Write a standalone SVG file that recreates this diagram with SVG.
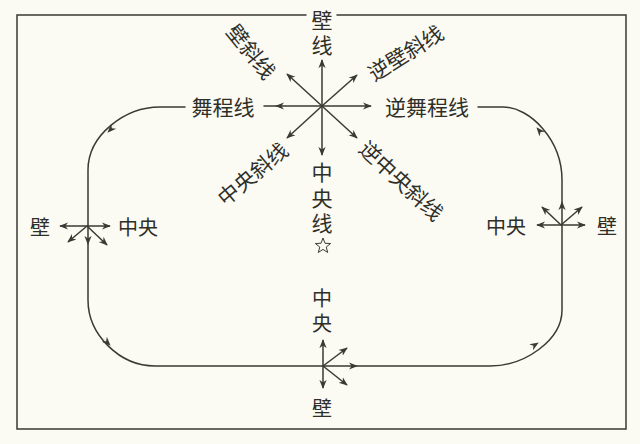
<svg xmlns="http://www.w3.org/2000/svg" width="640" height="444" viewBox="0 0 640 444">
<style>
.bg{fill:#fbfbf4}
.ln{fill:none;stroke:#3a3a32;stroke-width:1.5;stroke-linecap:round}
.ar{fill:none;stroke:#3a3a32;stroke-width:1.5;marker-end:url(#ah)}
.tk{fill:none;stroke:#3a3a32;stroke-width:0.1;marker-end:url(#ah)}
.t{font-family:"Noto Sans CJK SC","Noto Sans",sans-serif;font-size:21px;fill:#2f2f28;text-anchor:middle;dominant-baseline:central}
.s{font-size:20px}
.v{writing-mode:vertical-rl;letter-spacing:4.5px}
</style>
<defs>
<marker id="ah" viewBox="0 0 10 10" refX="9" refY="5" markerWidth="9" markerHeight="9" markerUnits="userSpaceOnUse" orient="auto">
<path d="M0,1 L10,5 L0,9 L3,5 Z" fill="#3a3a32"/>
</marker>
</defs>
<rect class="bg" x="0" y="0" width="640" height="444"/>
<g id="border">
<path class="ln" d="M306,15 H17 V429 H626 V15 H337"/>
</g>
<g id="connectors">
<path class="ln" d="M185,107 H160 C125,107 88,135 88,170 V300 C88,335 120,366 155,366 H490 C525,366 562,340 562,310 V180 C562,140 530,107 503,107 H478"/>
<path class="tk" d="M115,125 L108,132"/>
<path class="tk" d="M103,338 L110,345"/>
<path class="tk" d="M530,348 L538,343"/>
<path class="tk" d="M543,135 L537,128"/>
</g>
<g id="center-star">
<path class="ar" d="M322,106 L322,60"/>
<path class="ar" d="M322,106 L322,155"/>
<path class="ar" d="M322,106 L287,74"/>
<path class="ar" d="M322,106 L357,75"/>
<path class="ar" d="M322,106 L287,138"/>
<path class="ar" d="M322,106 L357,138"/>
<path class="ar" d="M322,106 L276,106"/>
<path class="ln" d="M276,106 L264,106"/>
<path class="ar" d="M322,106 L371,106"/>
</g>
<g id="label-wall-line">
<text class="t v" x="322" y="35">壁线</text>
</g>
<g id="label-lod">
<text class="t" x="223" y="106">舞程线</text>
</g>
<g id="label-against-lod">
<text class="t" x="427" y="106">逆舞程线</text>
</g>
<g id="label-diag-wall">
<text class="t" transform="translate(252,51) rotate(51)">壁斜线</text>
</g>
<g id="label-against-diag-wall">
<text class="t" transform="translate(405,52) rotate(-32)">逆壁斜线</text>
</g>
<g id="label-diag-center">
<text class="t" transform="translate(252,173) rotate(-40)">中央斜线</text>
</g>
<g id="label-against-diag-center">
<text class="t" transform="translate(402,180) rotate(43)">逆中央斜线</text>
</g>
<g id="label-center-line">
<text class="t v" x="322" y="200">中央线</text>
<polygon points="323,238 325,243.25 330.61,243.53 326.23,247.05 327.7,252.47 323,249.4 318.3,252.47 319.77,247.05 315.39,243.53 321,243.25" fill="none" stroke="#3a3a32" stroke-width="1"/>
</g>
<g id="left-cross">
<path class="ar" d="M87,226 L60,226"/>
<path class="ar" d="M87,226 L110,226"/>
<path class="ar" d="M87,226 L68,242"/>
<path class="ar" d="M87,226 L107,245"/>
<path class="tk" d="M88,234 L88,244"/>
<text class="t s" x="40" y="226">壁</text>
<text class="t s" x="138" y="226">中央</text>
</g>
<g id="right-cross">
<path class="ar" d="M561,225 L537,225"/>
<path class="ar" d="M561,225 L585,225"/>
<path class="ar" d="M561,225 L542,207"/>
<path class="ar" d="M561,225 L582,207"/>
<path class="tk" d="M562,212 L562,202"/>
<text class="t s" x="506" y="225">中央</text>
<text class="t s" x="607" y="225">壁</text>
</g>
<g id="bottom-cross">
<path class="ar" d="M323,366 L323,340"/>
<path class="ar" d="M323,366 L323,388"/>
<path class="ar" d="M323,366 L347,348"/>
<path class="ar" d="M323,366 L347,385"/>
<path class="tk" d="M349,366 L357,366"/>
<text class="t s v" x="322" y="313">中央</text>
<text class="t s" x="322" y="407">壁</text>
</g>
</svg>
